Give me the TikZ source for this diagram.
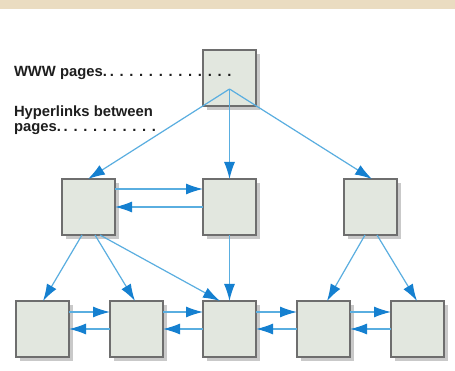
\documentclass[tikz,border=0pt]{standalone}
\usepackage{fontspec}
\setmainfont{Liberation Sans}
\usetikzlibrary{arrows.meta,shadows}
\definecolor{band}{HTML}{EADCC1}
\definecolor{boxfill}{HTML}{E2E7DF}
\definecolor{boxline}{HTML}{6E6E6E}
\definecolor{linkblue}{HTML}{5AAEE0}
\definecolor{tipblue}{HTML}{1580D0}
\definecolor{shadowgray}{HTML}{C4C4C4}
\definecolor{txt}{HTML}{1E1E1E}
\newcommand{\leaddot}{\hbox to 9.8pt{\hss.\hss}}
\begin{document}
\begin{tikzpicture}[x=1pt,y=-1pt,
  page/.style={draw=boxline, line width=1.3pt, fill=boxfill,
    minimum width=53pt, minimum height=56pt, inner sep=0pt, outer sep=0pt,
    drop shadow={shadow xshift=4pt, shadow yshift=-4pt, fill=shadowgray, opacity=0.9}},
  link/.style={draw=linkblue, line width=1.2pt,
    -{Latex[length=17pt,width=11pt,color=tipblue]}},
  lbl/.style={inner sep=0pt, outer sep=0pt, text=txt, font=\bfseries\fontsize{14.8}{15}\selectfont}]
\useasboundingbox (0,0) rectangle (455,371);
\fill[white] (0,0) rectangle (455,371);
\fill[band] (0,0) rectangle (455,9);

% pages
\node[page] (T) at (229.5,78) {};
\node[page] (L) at (88.5,207) {};
\node[page] (M) at (229.5,207) {};
\node[page] (R) at (370.5,207) {};
\node[page] (B1) at (42.5,329) {};
\node[page] (B2) at (136.5,329) {};
\node[page] (B3) at (229.5,329) {};
\node[page] (B4) at (323.5,329) {};
\node[page] (B5) at (417.5,329) {};
\coordinate (hub) at (229.5,89);

% labels
\node[lbl, anchor=base west] (www) at (14,77)
  {WWW pages.\leaddot\leaddot\leaddot\leaddot\leaddot\leaddot\leaddot\leaddot\leaddot\leaddot\leaddot\leaddot\leaddot};
\node[lbl, anchor=base west] (hyp) at (14,117)
  {\vtop{\baselineskip=14.5pt\hbox{Hyperlinks between}\hbox{pages.\leaddot\leaddot\leaddot\leaddot\leaddot\leaddot\leaddot\leaddot\leaddot\leaddot}}};

% links from top page
\draw[link] (hub) -- ([xshift=-0.5pt]L.north);
\draw[link] (hub) -- (M.north);
\draw[link] (hub) -- ([xshift=1.5pt]R.north);

% second row horizontal
\draw[link] ([yshift=18pt]L.east) -- ([yshift=18pt]M.west);
\draw[link] (M.west) -- (L.east);

% second row down
\draw[link] ([xshift=-6.5pt]L.south) -- ([xshift=0.5pt]B1.north);
\draw[link] ([xshift=6.5pt]L.south) -- ([xshift=-1.5pt]B2.north);
\draw[link] ([xshift=11.5pt]L.south) -- ([xshift=-9.5pt]B3.north);
\draw[link] (M.south) -- (B3.north);
\draw[link] ([xshift=-5.5pt]R.south) -- ([xshift=3.5pt]B4.north);
\draw[link] ([xshift=6.5pt]R.south) -- ([xshift=-0.5pt]B5.north);

% bottom row horizontal
\draw[link] ([yshift=17pt]B1.east) -- ([yshift=17pt]B2.west);
\draw[link] (B2.west) -- (B1.east);
\draw[link] ([yshift=17pt]B2.east) -- ([yshift=17pt]B3.west);
\draw[link] (B3.west) -- (B2.east);
\draw[link] ([yshift=17pt]B3.east) -- ([yshift=17pt]B4.west);
\draw[link] (B4.west) -- (B3.east);
\draw[link] ([yshift=17pt]B4.east) -- ([yshift=17pt]B5.west);
\draw[link] (B5.west) -- (B4.east);
\end{tikzpicture}
\end{document}
